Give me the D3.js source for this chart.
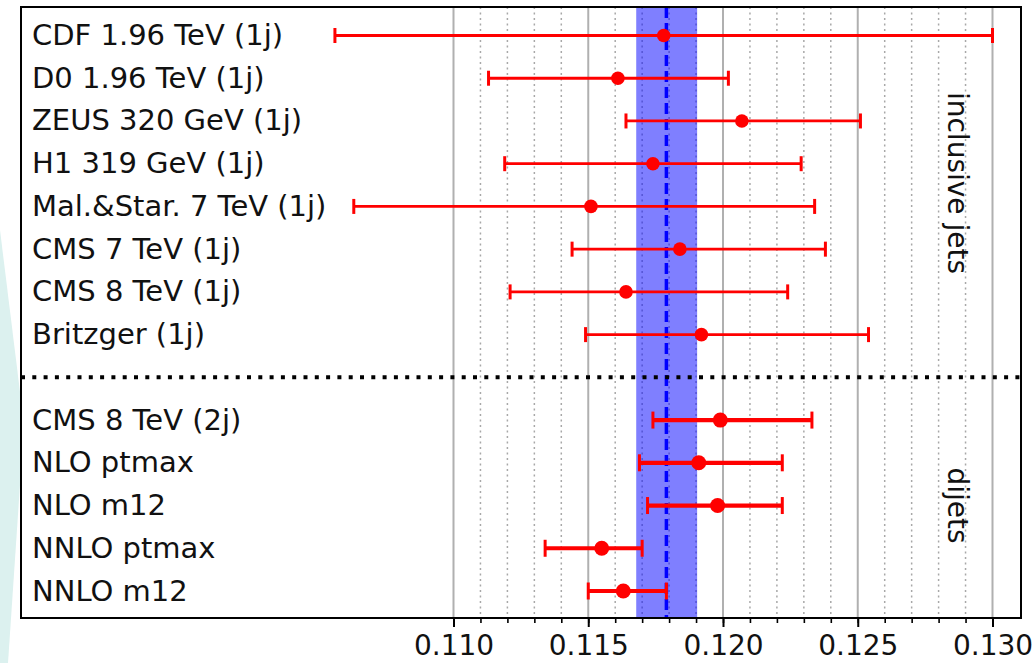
<!DOCTYPE html>
<html>
<head>
<meta charset="utf-8">
<script src="https://cdn.jsdelivr.net/npm/d3@7"></script>
<style>
	body { margin: 0; background: #fff; }
	text { font-family: "DejaVu Sans", sans-serif; }
</style>
</head>
<body>
<div id="chart"></div>
<script>
// alpha_s determinations from jet data
var labels = ["CDF 1.96 TeV (1j)", "D0 1.96 TeV (1j)", "ZEUS 320 GeV (1j)", "H1 319 GeV (1j)",
	"Mal.&Star. 7 TeV (1j)", "CMS 7 TeV (1j)", "CMS 8 TeV (1j)", "Britzger (1j)",
	"CMS 8 TeV (2j)", "NLO ptmax", "NLO m12", "NNLO ptmax", "NNLO m12"];
var groups = ["incl", "incl", "incl", "incl", "incl", "incl", "incl", "incl",
	"dijet", "dijet", "dijet", "dijet", "dijet"];
var centers = [0.1178, 0.1161, 0.1207, 0.1174, 0.1151, 0.1184, 0.1164, 0.1192,
	0.1199, 0.1191, 0.1198, 0.1155, 0.1163];
var lows = [0.1056, 0.1113, 0.1164, 0.1119, 0.1063, 0.1144, 0.1121, 0.1149,
	0.1174, 0.1169, 0.1172, 0.1134, 0.1150];
var highs = [0.1300, 0.1202, 0.1251, 0.1229, 0.1234, 0.1238, 0.1224, 0.1254,
	0.1233, 0.1222, 0.1222, 0.1170, 0.1179];

var worldAvg = 0.1179;
var worldBand = [0.11678, 0.11904];

var majorTicks = [0.110, 0.115, 0.120, 0.125, 0.130];
var minorTicks = d3.range(110, 131).map(function(d){ return d / 1000; });
var groupTitles = ["inclusive jets", "dijets"];
var groupRows = [[0, 7], [9, 13]]; // slot range of each group

var svgWidth = 1034;
var svgHeight = 663;
var frame = {left: 21, right: 1021, top: 7, bottom: 618};

var svg = d3.select("#chart")
	.append("svg")
	.attr("width", svgWidth)
	.attr("height", svgHeight);

// slide decoration at the far left
svg.append("polygon")
	.attr("points", "0,230 21,400 21,470 8,663 0,663")
	.style("fill", "#dcf1ef");

var x = d3.scaleLinear()
	.domain([0.110, 0.130])
	.range([453.5, 992.5]);

// 14 slots, slot 8 is the separator
var y = d3.scaleLinear()
	.domain([0, 13])
	.range([35.5, 591]);

function slot(i){
	return i < 8 ? i : i + 1;
}

svg.append("rect")
	.attr("x", frame.left)
	.attr("y", frame.top)
	.attr("width", frame.right - frame.left)
	.attr("height", frame.bottom - frame.top)
	.style("fill", "#fff");

// grid
svg.selectAll(".minorgrid")
	.data(minorTicks.filter(function(d){ return Math.round(d * 1000) % 5 != 0; }))
	.enter()
	.append("line")
	.attr("class", "minorgrid")
	.attr("x1", function(d){ return x(d); })
	.attr("x2", function(d){ return x(d); })
	.attr("y1", frame.top)
	.attr("y2", frame.bottom)
	.style("stroke", "#a8a8a8")
	.style("stroke-width", 1.5)
	.style("stroke-dasharray", "2,3.5");

svg.selectAll(".majorgrid")
	.data(majorTicks)
	.enter()
	.append("line")
	.attr("class", "majorgrid")
	.attr("x1", function(d){ return x(d); })
	.attr("x2", function(d){ return x(d); })
	.attr("y1", frame.top)
	.attr("y2", frame.bottom)
	.style("stroke", "#b0b0b0")
	.style("stroke-width", 2);

// world average band
svg.append("rect")
	.attr("x", x(worldBand[0]))
	.attr("y", frame.top)
	.attr("width", x(worldBand[1]) - x(worldBand[0]))
	.attr("height", frame.bottom - frame.top)
	.style("fill", "blue")
	.style("fill-opacity", 0.5);

svg.append("line")
	.attr("x1", x(worldAvg))
	.attr("x2", x(worldAvg))
	.attr("y1", frame.top)
	.attr("y2", frame.bottom)
	.style("stroke", "blue")
	.style("stroke-width", 3.5)
	.style("stroke-dasharray", "11,5");

// separator between groups
svg.append("line")
	.attr("x1", frame.left)
	.attr("x2", frame.right)
	.attr("y1", y(8))
	.attr("y2", y(8))
	.style("stroke", "#000")
	.style("stroke-width", 4)
	.style("stroke-dasharray", "4,7.3");

// error bars
var rows = svg.selectAll(".row")
	.data(labels)
	.enter()
	.append("g")
	.attr("class", "row")
	.attr("transform", function(d, i){
		return "translate(0," + y(slot(i)) + ")";
	});

rows.append("line")
	.attr("x1", function(d, i){ return x(lows[i]); })
	.attr("x2", function(d, i){ return x(highs[i]); })
	.style("stroke", "red")
	.style("stroke-width", function(d, i){ return groups[i] == "incl" ? 2.8 : 4.2; });

rows.selectAll(".cap")
	.data(function(d, i){ return [[lows[i], groups[i]], [highs[i], groups[i]]]; })
	.enter()
	.append("line")
	.attr("class", "cap")
	.attr("x1", function(d){ return x(d[0]); })
	.attr("x2", function(d){ return x(d[0]); })
	.attr("y1", function(d){ return d[1] == "incl" ? -7.5 : -8.5; })
	.attr("y2", function(d){ return d[1] == "incl" ? 7.5 : 8.5; })
	.style("stroke", "red")
	.style("stroke-width", 3);

rows.append("circle")
	.attr("cx", function(d, i){ return x(centers[i]); })
	.attr("r", function(d, i){ return groups[i] == "incl" ? 6.8 : 7.5; })
	.style("fill", "red");

rows.append("text")
	.attr("x", 32)
	.attr("y", 9.5)
	.style("font-size", "29px")
	.style("fill", "#111")
	.text(function(d){ return d; });

// group titles
svg.selectAll(".gtitle")
	.data(groupTitles)
	.enter()
	.append("text")
	.attr("class", "gtitle")
	.attr("transform", function(d, i){
		var yc = (y(groupRows[i][0]) + y(groupRows[i][1])) / 2;
		return "translate(948," + (i == 0 ? 183 : yc) + ") rotate(90)";
	})
	.attr("text-anchor", "middle")
	.style("font-size", "28px")
	.style("fill", "#111")
	.text(function(d){ return d; });

// frame
svg.append("rect")
	.attr("x", frame.left)
	.attr("y", frame.top)
	.attr("width", frame.right - frame.left)
	.attr("height", frame.bottom - frame.top)
	.style("fill", "none")
	.style("stroke", "#000")
	.style("stroke-width", 2);

// axis
var axisMinor = svg.append("g")
	.attr("transform", "translate(0," + frame.bottom + ")")
	.call(d3.axisBottom(x).tickValues(minorTicks).tickSize(5).tickFormat(""));
axisMinor.select(".domain").remove();
axisMinor.selectAll("line").style("stroke-width", 1.6);

var axisMajor = svg.append("g")
	.attr("transform", "translate(0," + frame.bottom + ")")
	.call(d3.axisBottom(x).tickValues(majorTicks).tickSize(9).tickPadding(8).tickFormat(d3.format(".3f")));
axisMajor.select(".domain").remove();
axisMajor.selectAll("line").style("stroke-width", 2);
axisMajor.selectAll("text")
	.style("font-family", "DejaVu Sans")
	.style("font-size", "28px")
	.style("fill", "#111");
</script>
</body>
</html>
